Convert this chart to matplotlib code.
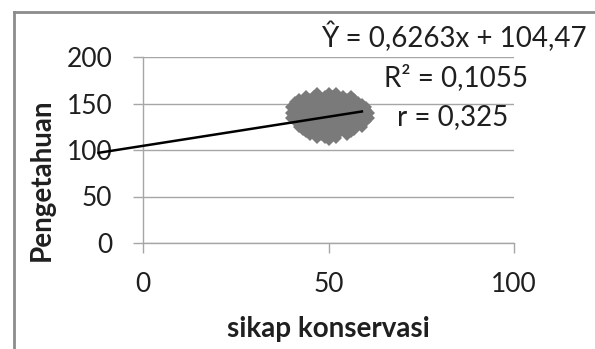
import numpy as np
import matplotlib
matplotlib.use("Agg")
import matplotlib.pyplot as plt
from matplotlib.lines import Line2D

# nilai pengetahuan (baris) dan sikap konservasi per baris
pengetahuan_baris = [161, 158, 155, 152, 149, 146, 143, 140, 137, 134, 131, 128, 125, 122, 119, 116, 113, 111]
sikap_baris = [
    [47, 50, 52],
    [44, 46, 49, 51, 54, 56],
    [42, 45, 47, 50, 52, 55, 57],
    [41, 43, 46, 48, 51, 53, 56, 58],
    [41, 44, 45, 47, 49, 52, 54, 57, 59],
    [40, 42, 44, 46, 48, 50, 53, 55, 58, 60],
    [41, 43, 45, 47, 49, 51, 54, 56, 58, 60],
    [40, 42, 44, 46, 48, 50, 52, 55, 57, 59, 61],
    [41, 43, 45, 47, 49, 51, 53, 56, 58, 60],
    [40, 42, 44, 46, 48, 50, 52, 54, 57, 59, 61],
    [41, 43, 45, 47, 49, 51, 53, 55, 58, 60],
    [42, 44, 46, 48, 50, 52, 54, 56, 59],
    [42, 45, 47, 49, 51, 53, 55, 57, 59],
    [43, 45, 48, 50, 52, 54, 57],
    [44, 46, 49, 51, 53, 56],
    [45, 48, 50, 52, 55],
    [47, 49, 52],
    [50],
]

# garis regresi
slope = 0.6263
intercept = 104.47
r2 = 0.1055
r = 0.325
trend_x = [-12, 59]

x_ticks = [0, 50, 100]
y_ticks = [0, 50, 100, 150, 200]

sikap = np.concatenate([np.array(v, dtype=float) for v in sikap_baris])
pengetahuan = np.concatenate([[p] * len(v) for p, v in zip(pengetahuan_baris, sikap_baris)]).astype(float)

plt.rcParams['font.family'] = ['Lato', 'DejaVu Sans']

W, H = 595, 349
fig = plt.figure(figsize=(W / 100, H / 100), dpi=100)
ax = fig.add_axes([143 / W, 1 - 243 / H, (514 - 143) / W, (243 - 57) / H])

grid_col = '#a6a6a6'
text_col = '#1f1f1f'
ax.set_xlim(0, 100)
ax.set_ylim(0, 200)
ax.set_xticks(x_ticks)
ax.set_yticks(y_ticks)
ax.yaxis.grid(True, color=grid_col, lw=1)
ax.set_axisbelow(True)
for s in ['top', 'right']:
    ax.spines[s].set_visible(False)
for s in ['left', 'bottom']:
    ax.spines[s].set_color(grid_col)
    ax.spines[s].set_linewidth(1)
ax.tick_params(axis='both', direction='out', length=7.2, width=1, color=grid_col,
               labelsize=19, labelcolor=text_col)
ax.tick_params(axis='y', pad=15)
ax.tick_params(axis='x', pad=14)

ax.plot(sikap, pengetahuan, linestyle='none', marker='D', markersize=6,
        color='#7a7a7a', markeredgewidth=0, zorder=3)

tx = np.array(trend_x, dtype=float)
ax.plot(tx, slope * tx + intercept, color='black', lw=1.8, zorder=4, clip_on=False)

ax.set_xlabel('sikap konservasi', fontsize=20, fontweight='bold', labelpad=13, color=text_col)
fig.text(42 / W, 1 - 180 / H, 'Pengetahuan', rotation=90, fontsize=20,
         fontweight='bold', ha='center', va='center', color=text_col)

txt = dict(fontsize=20, color=text_col, va='center')
fig.text(587 / W, 1 - 37 / H, 'Ŷ = ' + f'{slope}'.replace('.', ',') + 'x + '
         + f'{intercept}'.replace('.', ','), ha='right', **txt)
fig.text(528 / W, 1 - 78 / H, 'R² = ' + f'{r2}'.replace('.', ','), ha='right', **txt)
fig.text(508 / W, 1 - 117 / H, 'r = ' + f'{r}'.replace('.', ','), ha='right', **txt)

# bingkai area grafik
bc = '#8c8c8c'
fig.add_artist(Line2D([14 / W, 14 / W], [0, 1 - 12 / H], color=bc, lw=2))
fig.add_artist(Line2D([14 / W, 1], [1 - 12 / H, 1 - 12 / H], color=bc, lw=2))

fig.savefig('out.png', dpi=100)
